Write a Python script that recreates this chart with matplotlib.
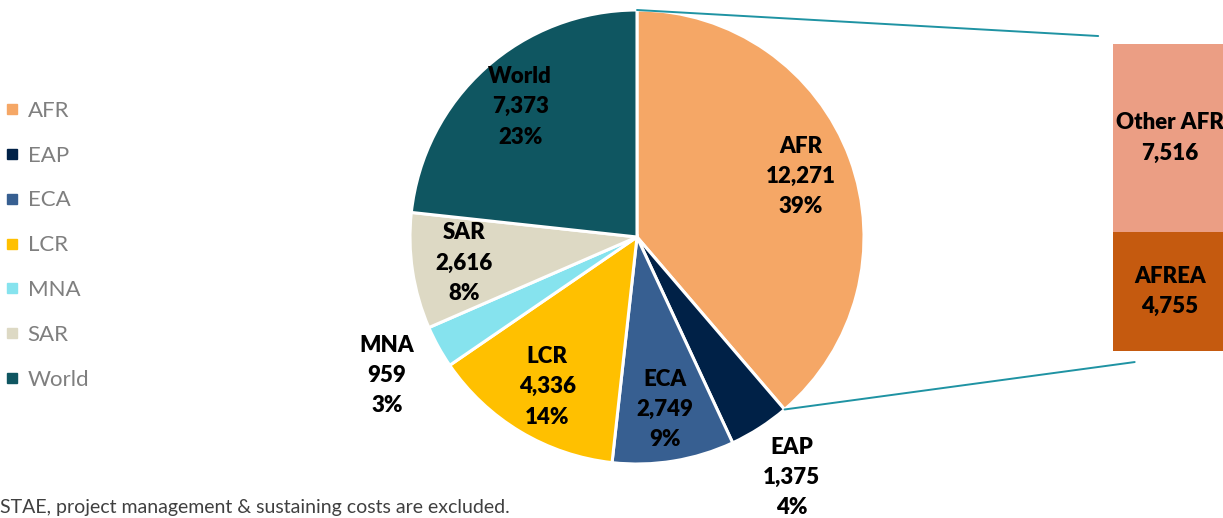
import numpy as np
import matplotlib
matplotlib.use("Agg")
import matplotlib.pyplot as plt
from matplotlib.patches import ConnectionPatch
from matplotlib.lines import Line2D

plt.rcParams['font.family'] = ['Lato', 'DejaVu Sans']

# data
regions = ["AFR", "EAP", "ECA", "LCR", "MNA", "SAR", "World"]
values = [12271, 1375, 2749, 4336, 959, 2616, 7373]
pct_labels = ["39%", "4%", "9%", "14%", "3%", "8%", "23%"]
colors = ["#F5A766", "#002147", "#375F91", "#FFC000", "#86E3EE", "#DDD9C4", "#0F5661"]

afr_parts = ["AFREA", "Other AFR"]
afr_values = [4755, 7516]
afr_colors = ["#C55A0F", "#EB9E84"]

W, H = 1223, 518
fig = plt.figure(figsize=(W / 100, H / 100), dpi=100)

# pie axes: centre (637,237) px, radius 227 px
cx, cy, r = 637, 237, 227
ax = fig.add_axes([(cx - r) / W, (H - cy - r) / H, 2 * r / W, 2 * r / H])
wedges, _ = ax.pie(values, colors=colors, startangle=90, counterclock=False,
                   radius=1, wedgeprops=dict(edgecolor="white", linewidth=2.2))
ax.set_xlim(-1, 1)
ax.set_ylim(-1, 1)
ax.set_aspect("equal")
ax.axis("off")

total = sum(values)
for w, name, v, p in zip(wedges, regions, values, pct_labels):
    mid = np.deg2rad((w.theta1 + w.theta2) / 2)
    dist = 1.26 if v / total < 0.05 else 0.77
    ax.text(dist * np.cos(mid), dist * np.sin(mid), f"{name}\n{v:,}\n{p}",
            ha="center", va="center", fontsize=16, fontweight="heavy",
            color="black", linespacing=1.55)

# bar of AFR split
bx0, bx1, by0, by1 = 1113, 1227, 44, 351
bax = fig.add_axes([bx0 / W, (H - by1) / H, (bx1 - bx0) / W, (by1 - by0) / H])
bottom = 0
for name, v, c in zip(afr_parts, afr_values, afr_colors):
    bax.bar(0, v, bottom=bottom, width=1, color=c, edgecolor="none")
    bax.text(0, bottom + v / 2, f"{name}\n{v:,}", ha="center", va="center",
             fontsize=16, fontweight="heavy", color="black", linespacing=1.55,
             clip_on=False)
    bottom += v
bax.set_xlim(-0.5, 0.5)
bax.set_ylim(0, sum(afr_values))
bax.axis("off")

# connector lines
afr_w = wedges[0]
line_c = "#1F93A3"
t_start = np.deg2rad(afr_w.theta2)
t_end = np.deg2rad(afr_w.theta1)
con1 = ConnectionPatch(xyA=(np.cos(t_start), np.sin(t_start)), coordsA=ax.transData,
                       xyB=(-0.13, 1.026), coordsB=bax.transAxes,
                       color=line_c, linewidth=1.4)
con2 = ConnectionPatch(xyA=(np.cos(t_end), np.sin(t_end)), coordsA=ax.transData,
                       xyB=(0.19, -0.036), coordsB=bax.transAxes,
                       color=line_c, linewidth=1.4)
fig.add_artist(con1)
fig.add_artist(con2)

# legend
handles = [Line2D([], [], marker="s", linestyle="none", markersize=7,
                  markerfacecolor=c, markeredgecolor=c) for c in colors]
leg = fig.legend(handles, regions, loc="upper left", bbox_to_anchor=(0.0, 1 - 94 / H),
                 frameon=False, fontsize=16, labelspacing=1.12, handlelength=0.5,
                 handletextpad=0.45, borderaxespad=0, borderpad=0.3)
for t in leg.get_texts():
    t.set_color("#7F7F7F")

fig.text(0, 1 - 508 / H, "STAE, project management & sustaining costs are excluded.",
         ha="left", va="center", fontsize=14, color="#404040")

fig.savefig("out.png", dpi=100)
